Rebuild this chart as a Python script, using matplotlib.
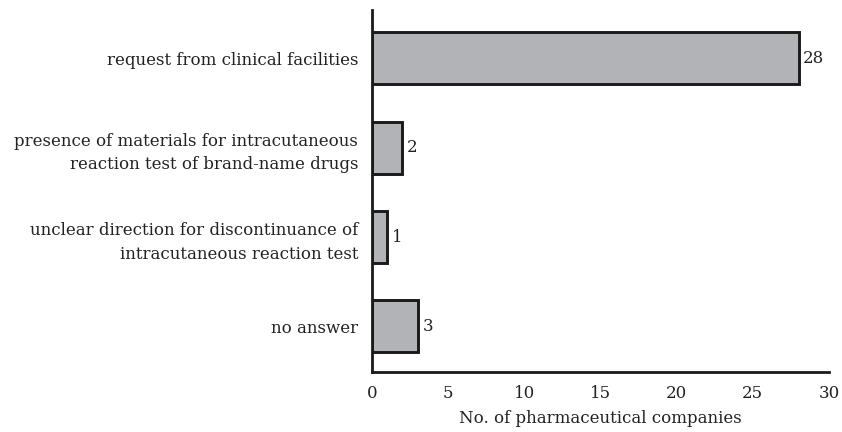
import matplotlib
matplotlib.use("Agg")
import matplotlib.pyplot as plt

categories = [
    "request from clinical facilities",
    "presence of materials for intracutaneous\nreaction test of brand-name drugs",
    "unclear direction for discontinuance of\nintracutaneous reaction test",
    "no answer",
]
values = [28, 2, 1, 3]
xticks = [0, 5, 10, 15, 20, 25, 30]

plt.rcParams['font.family'] = ['DejaVu Serif']
fig = plt.figure(figsize=(8.42, 4.32), dpi=100)
ax = fig.add_axes([372/842, 1-372/432, (829-372)/842, (372-10)/432])

pos = list(range(len(categories)))
ax.barh(pos, values, height=0.58, color='#b2b3b6', edgecolor='#1a1a1a', linewidth=2.1)
for p, v in zip(pos, values):
    ax.text(v + 0.3, p, str(v), va='center', ha='left', fontsize=12, color='#222222')

ax.set_ylim(3.51, -0.54)
ax.set_xlim(0, 30)
ax.set_xticks(xticks)
ax.set_yticks(pos)
ax.set_yticklabels(categories, fontsize=12.1, color='#222222', linespacing=1.5)
ax.tick_params(axis='both', length=0, labelsize=12, colors='#222222')
ax.tick_params(axis='y', pad=10)
ax.tick_params(axis='x', pad=9)
ax.set_xlabel("No. of pharmaceutical companies", fontsize=12, color='#222222', labelpad=6)
for s in ['top', 'right']:
    ax.spines[s].set_visible(False)
for s in ['left', 'bottom']:
    ax.spines[s].set_linewidth(2.0)
    ax.spines[s].set_color('#1a1a1a')

fig.savefig("out.png", dpi=100)
